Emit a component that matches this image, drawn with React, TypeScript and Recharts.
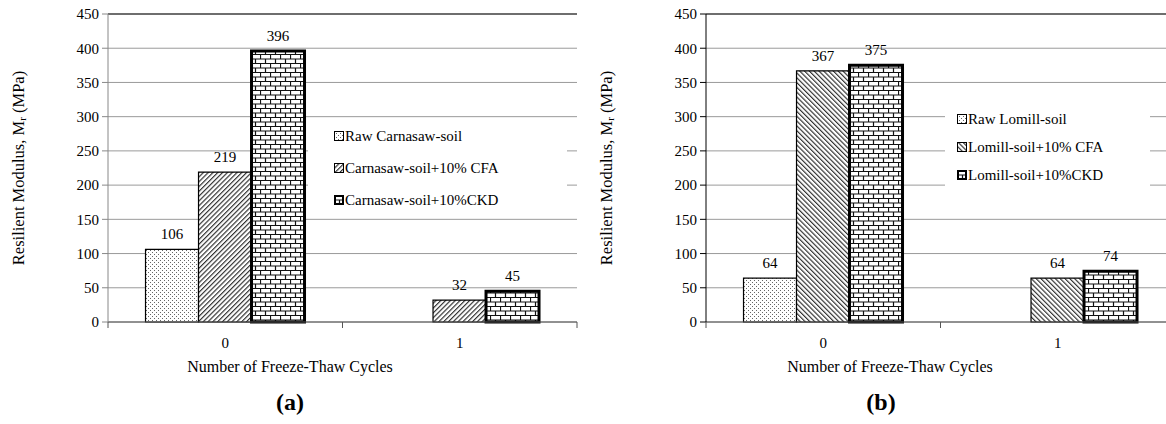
import React from 'react';
import { BarChart, Bar, XAxis, YAxis, CartesianGrid, LabelList, Legend, ReferenceLine } from 'recharts';

const categories = ['0', '1'];
const yTicks = [0, 50, 100, 150, 200, 250, 300, 350, 400, 450];

const namesA = ['Raw Carnasaw-soil', 'Carnasaw-soil+10% CFA', 'Carnasaw-soil+10%CKD'];
const rawA = [106, 0];
const cfaA = [219, 32];
const ckdA = [396, 45];

const namesB = ['Raw Lomill-soil', 'Lomill-soil+10% CFA', 'Lomill-soil+10%CKD'];
const rawB = [64, 0];
const cfaB = [367, 64];
const ckdB = [375, 74];

const FONT = "'Liberation Serif', 'Times New Roman', serif";

const buildRows = (raw: number[], cfa: number[], ckd: number[]) =>
  categories.map((c, i) => ({ cat: c, raw: raw[i], cfa: cfa[i], ckd: ckd[i] }));

const dataA = buildRows(rawA, cfaA, ckdA);
const dataB = buildRows(rawB, cfaB, ckdB);

const PatternDefs = ({ p, hatchAngle }: { p: string; hatchAngle: number }) => (
  <defs>
    <pattern id={`${p}-dots`} width="4" height="4" patternUnits="userSpaceOnUse">
      <rect width="4" height="4" fill="#fff" />
      <rect x="0" y="0" width="1" height="1" fill="#666" />
      <rect x="2" y="2" width="1" height="1" fill="#666" />
    </pattern>
    <pattern id={`${p}-hatch`} width="3.4" height="3.4" patternUnits="userSpaceOnUse" patternTransform={`rotate(${hatchAngle})`}>
      <rect width="3.4" height="3.4" fill="#fff" />
      <line x1="0.6" y1="0" x2="0.6" y2="3.4" stroke="#222" strokeWidth="1.1" />
    </pattern>
    <pattern id={`${p}-brick`} width="10" height="9" patternUnits="userSpaceOnUse">
      <rect width="10" height="9" fill="#fff" />
      <path d="M0 0.5H10 M0 5H10 M0.5 0V4.5 M5.5 4.5V9" stroke="#111" strokeWidth="1.2" fill="none" />
    </pattern>
  </defs>
);

const makeXTick = (n: number) => (props: any) => {
  const { x, y, payload, index, width } = props;
  const w = typeof width === 'number' && width > 0 ? width : 469;
  const half = w / n / 2;
  return (
    <g>
      <line x1={x - half} x2={x - half} y1={y} y2={y + 6} stroke="#555" />
      {index === n - 1 && <line x1={x + half} x2={x + half} y1={y} y2={y + 6} stroke="#555" />}
      <text x={x} y={y + 26} textAnchor="middle" fontFamily={FONT} fontSize={15} fill="#000">
        {payload.value}
      </text>
    </g>
  );
};

const LegendBox = ({ names, p, gap, width, padLeft }: { names: string[]; p: string; gap: number; width: number; padLeft: number }) => (
  <div style={{ background: '#fff', width, boxSizing: 'border-box', paddingLeft: padLeft, fontFamily: FONT, fontSize: 15, color: '#000' }}>
    {names.map((nm, i) => (
      <div key={nm} style={{ display: 'flex', alignItems: 'center', height: gap, whiteSpace: 'nowrap' }}>
        <svg width="10" height="10" style={{ marginRight: 1 }}>
          <rect x={i === 2 ? 1 : 0.5} y={i === 2 ? 1 : 0.5} width={i === 2 ? 8 : 9} height={i === 2 ? 8 : 9}
            fill={`url(#${p}-${['dots', 'hatch', 'brick'][i]})`} stroke="#000" strokeWidth={i === 2 ? 2 : 1} />
        </svg>
        <span>{nm}</span>
      </div>
    ))}
  </div>
);

type PanelProps = {
  data: any[];
  names: string[];
  p: string;
  hatchAngle: number;
  yAxisColor: string;
  yLabelDx: number;
  titleX: number;
  panelLetter: string;
  letterX: number;
  legendLeft: number;
  legendTop: number;
  legendGap: number;
  legendWidth: number;
  legendPad: number;
};

const Panel = ({ data, names, p, hatchAngle, yAxisColor, yLabelDx, titleX, panelLetter, letterX, legendLeft, legendTop, legendGap, legendWidth, legendPad }: PanelProps) => (
  <BarChart width={583} height={424} data={data} margin={{ top: 14, right: 6, bottom: 62, left: 0 }} barCategoryGap="16%" barGap={0}>
    <PatternDefs p={p} hatchAngle={hatchAngle} />
    <CartesianGrid horizontal vertical={false} stroke="#9a9a9a" />
    <XAxis
      dataKey="cat"
      height={40}
      tickLine={false}
      tickSize={0}
      tickMargin={0}
      axisLine={{ stroke: '#555' }}
      tick={makeXTick(categories.length)}
      interval={0}
      label={{
        content: (lp: any) => {
          const vb = lp.viewBox || { x: 0, y: 322 };
          return (
            <g>
              <text x={vb.x + titleX} y={vb.y + 50} textAnchor="middle" fontFamily={FONT} fontSize={16} fill="#000">
                Number  of Freeze-Thaw  Cycles
              </text>
              <text x={vb.x + letterX} y={vb.y + 88} textAnchor="middle" fontFamily={FONT} fontSize={24} fontWeight="bold" fill="#000">
                {panelLetter}
              </text>
            </g>
          );
        },
      }}
    />
    <YAxis
      domain={[0, 450]}
      ticks={yTicks}
      width={108}
      tickSize={6}
      tickMargin={3}
      tickLine={{ stroke: yAxisColor }}
      axisLine={{ stroke: yAxisColor }}
      tick={{ fontFamily: FONT, fontSize: 15, fill: '#000' }}
      interval={0}
      label={{
        content: (lp: any) => {
          const vb = lp.viewBox || { x: 0, y: 14, height: 308 };
          const cx = vb.x + yLabelDx;
          const cy = vb.y + vb.height / 2;
          return (
            <text transform={`translate(${cx},${cy}) rotate(-90)`} textAnchor="middle" dominantBaseline="central" fontFamily={FONT} fontSize={16.5} fill="#000">
              Resilient Modulus,  M<tspan dy="4" fontSize="11">r</tspan>
              <tspan dy="-4"> (MPa)</tspan>
            </text>
          );
        },
      }}
    />
    <YAxis yAxisId="right" orientation="right" width={0} tick={false} tickLine={false} domain={[0, 450]} axisLine={{ stroke: '#555' }} />
    <ReferenceLine y={450} stroke="#111" strokeWidth={1.2} />
    <Legend
      layout="vertical"
      align="center"
      verticalAlign="middle"
      wrapperStyle={{ position: 'absolute', left: legendLeft, top: legendTop, width: 'auto' }}
      content={() => <LegendBox names={names} p={p} gap={legendGap} width={legendWidth} padLeft={legendPad} />}
    />
    <Bar dataKey="raw" name={names[0]} fill={`url(#${p}-dots)`} stroke="#000" strokeWidth={1.2} isAnimationActive={false}>
      <LabelList dataKey="raw" position="top" offset={10} fontFamily={FONT} fontSize={15} fill="#000" />
    </Bar>
    <Bar dataKey="cfa" name={names[1]} fill={`url(#${p}-hatch)`} stroke="#000" strokeWidth={1.2} isAnimationActive={false}>
      <LabelList dataKey="cfa" position="top" offset={10} fontFamily={FONT} fontSize={15} fill="#000" />
    </Bar>
    <Bar dataKey="ckd" name={names[2]} fill={`url(#${p}-brick)`} stroke="#000" strokeWidth={3} isAnimationActive={false}>
      <LabelList dataKey="ckd" position="top" offset={10} fontFamily={FONT} fontSize={15} fill="#000" />
    </Bar>
  </BarChart>
);

export default function App() {
  return (
    <div style={{ position: 'fixed', left: 0, top: 0, width: 1166, height: 424, overflow: 'hidden', background: '#fff' }}>
      <div style={{ position: 'absolute', left: 0, top: 0 }}>
        <Panel data={dataA} names={namesA} p="pa" hatchAngle={45} yAxisColor="#888" yLabelDx={18} titleX={182} panelLetter="(a)" letterX={182}
          legendLeft={308} legendTop={120} legendGap={32} legendWidth={259} legendPad={26} />
      </div>
      <div style={{ position: 'absolute', left: 598, top: 0 }}>
        <Panel data={dataB} names={namesB} p="pb" hatchAngle={-45} yAxisColor="#000" yLabelDx={8} titleX={184} panelLetter="(b)" letterX={175}
          legendLeft={347} legendTop={105} legendGap={28} legendWidth={205} legendPad={12} />
      </div>
    </div>
  );
}
